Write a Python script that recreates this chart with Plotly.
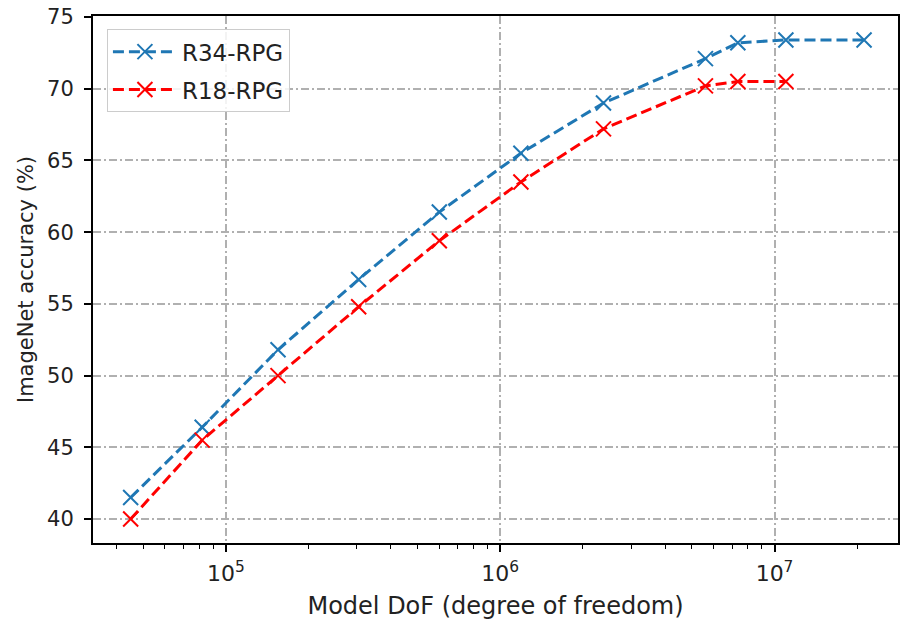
import plotly.graph_objects as go

# Model degrees of freedom and top-1 ImageNet accuracy (%)
r34_dof = [4.5e4, 8.2e4, 1.55e5, 3.05e5, 6.0e5, 1.19e6, 2.38e6, 5.6e6, 7.35e6, 1.10e7, 2.12e7]
r34_acc = [41.5, 46.4, 51.8, 56.7, 61.4, 65.5, 69.0, 72.1, 73.2, 73.4, 73.4]

r18_dof = [4.5e4, 8.2e4, 1.55e5, 3.05e5, 6.0e5, 1.19e6, 2.38e6, 5.6e6, 7.35e6, 1.10e7]
r18_acc = [40.0, 45.5, 50.0, 54.8, 59.4, 63.5, 67.2, 70.2, 70.5, 70.5]

y_ticks = [40, 45, 50, 55, 60, 65, 70, 75]
x_major = [1e5, 1e6, 1e7]
x_major_text = ["10<sup>5</sup>", "10<sup>6</sup>", "10<sup>7</sup>"]
x_minor = [m * 10 ** e for e in range(4, 8) for m in range(2, 10)]

FONT = "DejaVu Sans"
TEXT = "#222222"
GRID = "#b0b0b0"

fig = go.Figure()

series = [
    ("R34-RPG", r34_dof, r34_acc, "#1f77b4"),
    ("R18-RPG", r18_dof, r18_acc, "#ff0000"),
]
for name, xs, ys, color in series:
    fig.add_trace(go.Scatter(
        x=xs, y=ys, name=name, legendgroup=name, mode="lines+markers",
        line=dict(color=color, width=3, dash="11px,5px"),
        marker=dict(symbol="x-thin-open", size=15, color=color,
                    line=dict(color=color, width=2)),
    ))

fig.update_layout(
    width=903, height=620,
    margin=dict(l=93, r=3, t=16, b=77),
    paper_bgcolor="white", plot_bgcolor="white",
    font=dict(family=FONT, size=21, color=TEXT),
    showlegend=True,
    legend=dict(
        x=0.0173, y=0.975, xanchor="left", yanchor="top",
        bgcolor="rgba(255,255,255,0.85)", bordercolor="#cccccc", borderwidth=1,
        font=dict(family=FONT, size=23, color=TEXT),
        itemwidth=64, tracegroupgap=5,
    ),
)

fig.update_xaxes(
    type="log", range=[4.516, 7.45],
    tickmode="array", tickvals=x_major, ticktext=x_major_text,
    tickfont=dict(family=FONT, size=22, color=TEXT),
    ticks="outside", ticklen=7, tickwidth=1.5, tickcolor="black",
    ticklabelstandoff=3,
    showline=True, linecolor="black", linewidth=2, mirror=True,
    showgrid=True, gridcolor=GRID, gridwidth=1.5, griddash="8px,3px,2px,3px",
    minor=dict(tickmode="array", tickvals=x_minor, ticks="outside",
               ticklen=4, tickwidth=1.2, tickcolor="black", showgrid=False),
    zeroline=False,
    title=dict(text="Model DoF (degree of freedom)", standoff=13,
               font=dict(family=FONT, size=24, color=TEXT)),
)

fig.update_yaxes(
    range=[38.33, 75.07],
    tickmode="array", tickvals=y_ticks,
    tickfont=dict(family=FONT, size=21, color=TEXT),
    ticks="outside", ticklen=7, tickwidth=1.5, tickcolor="black",
    ticklabelstandoff=6,
    showline=True, linecolor="black", linewidth=2, mirror=True,
    showgrid=True, gridcolor=GRID, gridwidth=1.5, griddash="8px,3px,2px,3px",
    zeroline=False,
    title=dict(text="ImageNet accuracy (%)", standoff=8,
               font=dict(family=FONT, size=21, color=TEXT)),
)

fig.write_html("out.html")
